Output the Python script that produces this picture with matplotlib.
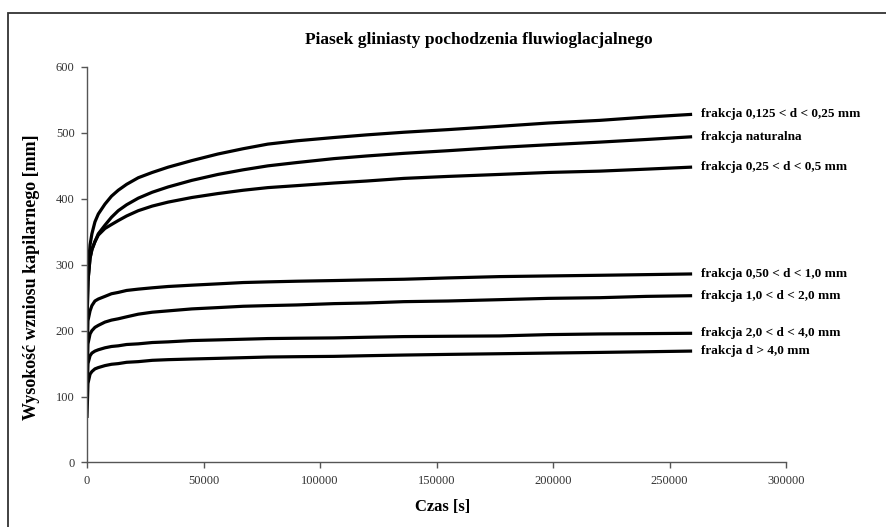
import matplotlib
matplotlib.use("Agg")
import matplotlib.pyplot as plt
from matplotlib.patches import Rectangle

plt.rcParams['font.family'] = ['Liberation Serif', 'DejaVu Serif']

# czas pomiaru [s]
czas = [0, 400, 1300, 2100, 3400, 4850, 7700, 10500, 13400, 17000, 22000,
        28000, 34800, 45000, 56200, 67000, 77600, 90000, 106000, 120000,
        136000, 155000, 177000, 198000, 220000, 240000, 259000]

# wysokosc wzniosu kapilarnego [mm]
fr_0125_025 = [230, 290, 330, 347, 365, 377, 392, 404, 413, 422, 432, 440, 448, 458,
               468, 476, 483, 488, 493, 497, 501, 505, 510, 515, 519, 524, 528]
fr_natural = [210, 275, 310, 323, 335, 347, 360, 372, 382, 391, 401, 410, 418, 428,
              437, 444, 450, 455, 461, 465, 469, 473, 478, 482, 486, 490, 494]
fr_025_05 = [210, 275, 310, 323, 335, 345, 355, 361, 367, 374, 382, 389, 395, 402,
             408, 413, 417, 420, 424, 427, 431, 434, 437, 440, 442, 445, 448]
fr_05_10 = [150, 215, 230, 238, 245, 248, 252, 256, 258, 261, 263, 265, 267, 269,
            271, 273, 274, 275, 276, 277, 278, 280, 282, 283, 284, 285, 286]
fr_10_20 = [120, 180, 195, 200, 205, 208, 213, 216, 218, 221, 225, 228, 230, 233,
            235, 237, 238, 239, 241, 242, 244, 245, 247, 249, 250, 252, 253]
fr_20_40 = [95, 150, 162, 166, 169, 171, 174, 176, 177, 179, 180, 182, 183, 185,
            186, 187, 188, 188.5, 189, 190, 191, 191.5, 192, 194, 195, 195.5, 196]
fr_40 = [70, 120, 134, 138, 142, 144, 147, 149, 150, 152, 153, 155, 156, 157,
         158, 159, 160, 160.5, 161, 162, 163, 164, 165, 166, 167, 168, 169]

serie = [fr_0125_025, fr_natural, fr_025_05, fr_05_10, fr_10_20, fr_20_40, fr_40]
etykiety = ['frakcja 0,125 < d < 0,25 mm', 'frakcja naturalna',
            'frakcja 0,25 < d < 0,5 mm', 'frakcja 0,50 < d < 1,0 mm',
            'frakcja 1,0 < d < 2,0 mm', 'frakcja 2,0 < d < 4,0 mm',
            'frakcja d > 4,0 mm']

fig = plt.figure(figsize=(8.87, 5.27), dpi=100)
ax = fig.add_axes([0.0981, 0.1224, 0.7881, 0.7505])

for wart, et in zip(serie, etykiety):
    ax.plot(czas, wart, color='black', lw=2.3, solid_joinstyle='round')
    ax.text(czas[-1] + 4500, wart[-1], et, fontsize=9.5, fontweight='bold',
            va='center', ha='left', clip_on=False)

ax.set_xlim(0, 300000)
ax.set_ylim(0, 600)
ax.set_xticks(range(0, 300001, 50000))
ax.set_yticks(range(0, 601, 100))

for s in ['top', 'right']:
    ax.spines[s].set_visible(False)
for s in ['left', 'bottom']:
    ax.spines[s].set_color('#555555')
    ax.spines[s].set_linewidth(1.0)
ax.tick_params(direction='out', length=4, width=1, color='#555555',
               labelsize=9, labelcolor='#333333', pad=5)

fig.text(479 / 887, 1 - 40 / 527, 'Piasek gliniasty pochodzenia fluwioglacjalnego',
         ha='center', va='center', fontsize=12.5, fontweight='bold')
fig.text(443 / 887, 1 - 507 / 527, 'Czas [s]', ha='center', va='center',
         fontsize=12, fontweight='bold')
fig.text(32 / 887, 1 - 277 / 527, 'Wysokość wzniosu kapilarnego [mm]',
         ha='center', va='center', rotation=90, fontsize=13, fontweight='bold')

# ramka wykresu (przycieta z prawej i z dolu)
fig.patches.append(Rectangle((8 / 887, -0.1), 2, 1.1 - 13 / 527,
                             transform=fig.transFigure, fill=False,
                             edgecolor='#333333', lw=1.3))

fig.savefig('out.png', dpi=100)
